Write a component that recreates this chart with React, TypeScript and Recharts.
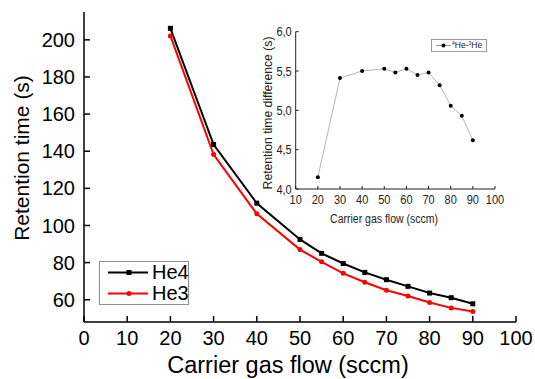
import React from 'react';
import { ComposedChart, Line, XAxis, YAxis } from 'recharts';

// carrier gas flow (sccm) and measured retention times (s)
const flow = [20, 30, 40, 50, 55, 60, 65, 70, 75, 80, 85, 90];
const he4 = [206.2, 143.6, 112.0, 92.5, 85.0, 79.5, 74.7, 70.8, 67.2, 63.6, 61.1, 57.8];
const he3 = [202.1, 138.2, 106.3, 87.0, 80.4, 74.2, 69.4, 65.1, 62.0, 58.5, 55.6, 53.7];
// inset: 4He - 3He retention time difference (s)
const diff = [4.15, 5.41, 5.5, 5.53, 5.48, 5.53, 5.45, 5.48, 5.32, 5.06, 4.93, 4.62];

const xMajor = [0, 10, 20, 30, 40, 50, 60, 70, 80, 90, 100];
const xMinor = [5, 15, 25, 35, 45, 55, 65, 75, 85, 95];
const yMajor = [60, 80, 100, 120, 140, 160, 180, 200];
const yMinor = [50, 70, 90, 110, 130, 150, 170, 190, 210];

const insetXMajor = [10, 20, 30, 40, 50, 60, 70, 80, 90, 100];
const insetXMinor = [15, 25, 35, 45, 55, 65, 75, 85, 95];
const insetYMajor = [4, 4.5, 5, 5.5, 6];
const insetYMinor = [4.25, 4.75, 5.25, 5.75];

const font = '"Liberation Sans", Arial, sans-serif';

const mainData = flow.map((f, i) => ({ flow: f, he4: he4[i], he3: he3[i] }));
const insetData = flow.map((f, i) => ({ flow: f, diff: diff[i] }));

const noLabel = () => <g />;
const comma = (v: number) => v.toFixed(1).replace('.', ',');

const Square = (props: any) => {
  const { cx, cy, index } = props;
  return <rect key={`sq-${index}`} x={cx - 2.5} y={cy - 2.5} width={5} height={5} fill="#000" />;
};

// inset text in the source figure is a bit taller than it is wide
const InsetXTick = (props: any) => {
  const { x, y, payload } = props;
  return (
    <text transform={`translate(${x},${y}) scale(1,1.2)`} y={7.9} textAnchor="middle"
      fontSize={11} fontFamily={font} fill="#222">
      {payload.value}
    </text>
  );
};

const InsetYTick = (props: any) => {
  const { x, y, payload } = props;
  return (
    <text transform={`translate(${x},${y}) scale(1,1.2)`} y={3.9} textAnchor="end"
      fontSize={11} fontFamily={font} fill="#222">
      {comma(payload.value)}
    </text>
  );
};

const MainChart = () => (
  <ComposedChart width={535} height={379} data={mainData} margin={{ top: 12, right: 19, bottom: 0, left: 0 }}>
    <XAxis
      xAxisId="b" dataKey="flow" type="number" domain={[0, 100]} allowDataOverflow
      ticks={xMajor} interval={0} height={57} stroke="#000" strokeWidth={1.5}
      tickSize={-6} tickMargin={15} tick={{ fontSize: 20, fill: '#000', fontFamily: font }}
      label={() => (
        <text x={288} y={373} textAnchor="middle" fontSize={23.5} fontFamily={font} fill="#000">
          Carrier gas flow (sccm)
        </text>
      )}
    />
    <XAxis xAxisId="bm" dataKey="flow" type="number" domain={[0, 100]} allowDataOverflow
      ticks={xMinor} interval={0} height={0} axisLine={false} stroke="#000" strokeWidth={1.5}
      tickSize={-3} tick={noLabel} />
    <XAxis xAxisId="t" orientation="top" dataKey="flow" type="number" domain={[0, 100]} allowDataOverflow
      ticks={xMajor} interval={0} height={0} stroke="#000" strokeWidth={1.5} tickSize={-6} tick={noLabel} />
    <XAxis xAxisId="tm" orientation="top" dataKey="flow" type="number" domain={[0, 100]} allowDataOverflow
      ticks={xMinor} interval={0} height={0} axisLine={false} stroke="#000" strokeWidth={1.5}
      tickSize={-3} tick={noLabel} />
    <YAxis
      yAxisId="l" type="number" domain={[48, 215]} allowDataOverflow ticks={yMajor} interval={0}
      width={84} stroke="#000" strokeWidth={1.5} tickSize={-6} tickMargin={15}
      tick={{ fontSize: 20, fill: '#000', fontFamily: font }}
      label={() => (
        <text x={21} y={158} transform="rotate(-90 21 158)" textAnchor="middle" dominantBaseline="central"
          fontSize={21} fontFamily={font} fill="#000">
          Retention time (s)
        </text>
      )}
    />
    <YAxis yAxisId="lm" type="number" domain={[48, 215]} allowDataOverflow ticks={yMinor} interval={0}
      width={0} axisLine={false} stroke="#000" strokeWidth={1.5} tickSize={-3} tick={noLabel} />
    <YAxis yAxisId="r" orientation="right" type="number" domain={[48, 215]} allowDataOverflow ticks={yMajor}
      interval={0} width={0} stroke="#000" strokeWidth={1.5} tickSize={-6} tick={noLabel} />
    <YAxis yAxisId="rm" orientation="right" type="number" domain={[48, 215]} allowDataOverflow ticks={yMinor}
      interval={0} width={0} axisLine={false} stroke="#000" strokeWidth={1.5} tickSize={-3} tick={noLabel} />
    <Line xAxisId="b" yAxisId="l" type="linear" dataKey="he4" stroke="#000" strokeWidth={2}
      dot={Square} activeDot={false} isAnimationActive={false} />
    <Line xAxisId="b" yAxisId="l" type="linear" dataKey="he3" stroke="#ff0000" strokeWidth={2}
      dot={{ r: 2.5, fill: '#ff0000', stroke: 'none' }} activeDot={false} isAnimationActive={false} />
  </ComposedChart>
);

const InsetChart = () => (
  <ComposedChart width={280} height={215} data={insetData} margin={{ top: 11.7, right: 15, bottom: 0, left: 0 }}>
    <XAxis
      xAxisId="b" dataKey="flow" type="number" domain={[10, 100]} allowDataOverflow ticks={insetXMajor}
      interval={0} height={46} stroke="#222" tickSize={-3} tickMargin={9} tick={InsetXTick}
      label={() => (
        <text transform="translate(154,203) scale(1,1.25)" textAnchor="middle" fontSize={10.5}
          fontFamily={font} fill="#222">
          Carrier gas flow (sccm)
        </text>
      )}
    />
    <XAxis xAxisId="bm" dataKey="flow" type="number" domain={[10, 100]} allowDataOverflow ticks={insetXMinor}
      interval={0} height={0} axisLine={false} stroke="#222" tickSize={-1.5} tick={noLabel} />
    <XAxis xAxisId="t" orientation="top" dataKey="flow" type="number" domain={[10, 100]} allowDataOverflow
      ticks={insetXMajor} interval={0} height={0} stroke="#222" tickSize={-3} tick={noLabel} />
    <XAxis xAxisId="tm" orientation="top" dataKey="flow" type="number" domain={[10, 100]} allowDataOverflow
      ticks={insetXMinor} interval={0} height={0} axisLine={false} stroke="#222" tickSize={-1.5} tick={noLabel} />
    <YAxis
      yAxisId="l" type="number" domain={[4, 6]} allowDataOverflow ticks={insetYMajor} interval={0}
      width={65.7} stroke="#222" tickSize={-3} tickMargin={7} tick={InsetYTick}
      label={() => (
        <text x={38.3} y={93} transform="rotate(-90 38.3 93)" textAnchor="middle" dominantBaseline="central"
          fontSize={12.2} fontFamily={font} fill="#222">
          Retention time difference  (s)
        </text>
      )}
    />
    <YAxis yAxisId="lm" type="number" domain={[4, 6]} allowDataOverflow ticks={insetYMinor} interval={0}
      width={0} axisLine={false} stroke="#222" tickSize={-1.5} tick={noLabel} />
    <YAxis yAxisId="r" orientation="right" type="number" domain={[4, 6]} allowDataOverflow ticks={insetYMajor}
      interval={0} width={0} stroke="#222" tickSize={-3} tick={noLabel} />
    <YAxis yAxisId="rm" orientation="right" type="number" domain={[4, 6]} allowDataOverflow ticks={insetYMinor}
      interval={0} width={0} axisLine={false} stroke="#222" tickSize={-1.5} tick={noLabel} />
    <Line xAxisId="b" yAxisId="l" type="linear" dataKey="diff" stroke="#b4b4b4" strokeWidth={1}
      dot={{ r: 2, fill: '#000', stroke: 'none' }} activeDot={false} isAnimationActive={false} />
  </ComposedChart>
);

const mainLegend = [
  { name: 'He4', color: '#000', square: true },
  { name: 'He3', color: '#ff0000', square: false },
];

const MainLegend = () => (
  <div style={{
    position: 'absolute', left: 99, top: 261, width: 88, height: 42, border: '1px solid #8c8c8c',
    background: '#fff', fontFamily: font, fontSize: 20, color: '#000',
  }}>
    {mainLegend.map((item, i) => (
      <div key={item.name} style={{ position: 'absolute', left: 0, top: i * 21, height: 21, width: 88 }}>
        <svg width={50} height={21} style={{ position: 'absolute', left: 0, top: 0 }}>
          <line x1={8} x2={48} y1={10.5} y2={10.5} stroke={item.color} strokeWidth={2} />
          {item.square
            ? <rect x={26.5} y={8} width={5} height={5} fill={item.color} />
            : <circle cx={29} cy={10.5} r={2.5} fill={item.color} />}
        </svg>
        <span style={{ position: 'absolute', left: 52, top: 0, lineHeight: '21px' }}>{item.name}</span>
      </div>
    ))}
  </div>
);

const supStyle: React.CSSProperties = { fontSize: 5, position: 'relative', top: -3 };

const InsetLegend = () => (
  <div style={{
    position: 'absolute', left: 431, top: 39, width: 54, height: 11, border: '1px solid #9a9a9a',
    background: '#fff', fontFamily: font, fontSize: 8.5, color: '#222',
  }}>
    <svg width={20} height={11} style={{ position: 'absolute', left: 0, top: 0 }}>
      <line x1={4} x2={19} y1={5.5} y2={5.5} stroke="#9a9a9a" strokeWidth={1} />
      <circle cx={11.5} cy={5.5} r={2} fill="#000" />
    </svg>
    <span style={{ position: 'absolute', left: 20, top: 0, lineHeight: '11px', whiteSpace: 'nowrap' }}>
      <span style={supStyle}>4</span>He-<span style={supStyle}>3</span>He
    </span>
  </div>
);

export default function App() {
  return (
    <div style={{ position: 'absolute', left: 0, top: 0, width: 535, height: 379, background: '#fff', overflow: 'hidden' }}>
      <MainChart />
      <div style={{ position: 'absolute', left: 230, top: 20 }}>
        <InsetChart />
      </div>
      <MainLegend />
      <InsetLegend />
    </div>
  );
}
